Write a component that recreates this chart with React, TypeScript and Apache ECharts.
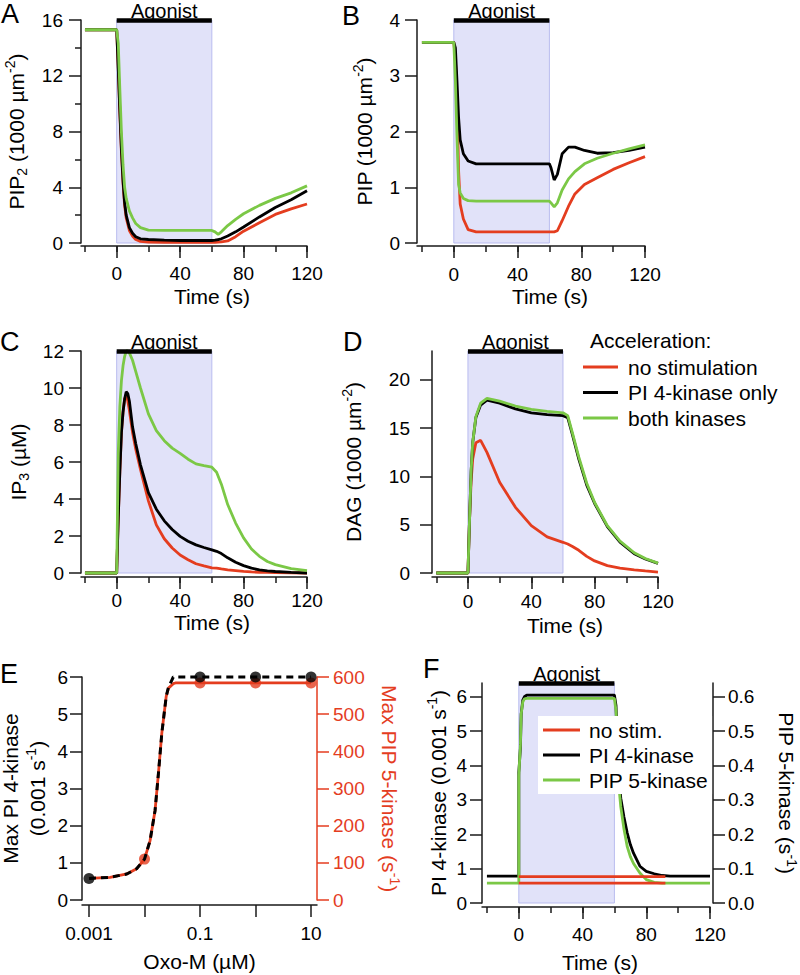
import React, { useEffect, useRef } from 'react';
import * as echarts from 'echarts';

const FONT = '"Liberation Sans", Arial, Helvetica, sans-serif';
const RED = '#e43d1f';
const GREEN = '#7bc846';
const BLACK = '#000000';
const AXIS = '#1a1a1a';
const SHADE = '#e1e2f9';
const SHADE_EDGE = '#b9bcef';

// ---- tick values ----
const timeAllTicks = [-20, 0, 20, 40, 60, 80, 100, 120];
const timeMajorTicks = [0, 40, 80, 120];
const dagTicks = [0, 5, 10, 15, 20];
const pi4RateTicks = [0, 1, 2, 3, 4, 5, 6];
const pip5RateTicks = [0, 0.1, 0.2, 0.3, 0.4, 0.5, 0.6];
const oxoTicks = [0.001, 0.01, 0.1, 1, 10];
const oxoLabels = [0.001, 0.1, 10];

const agonistStart = 0;
const agonistEnd = 60;

// ---- Panel A: PIP2 (1000 µm^-2) ----
const timeA = [-20, 0, 1, 2, 3, 4, 5, 6, 8, 10, 12, 15, 20, 30, 40, 50, 60, 62, 64, 66, 70, 75, 80, 90, 100, 110, 120];
const pip2None = [15.3, 15.3, 12.5, 9.3, 6.5, 4.3, 2.7, 1.8, 0.9, 0.5, 0.25, 0.12, 0.07, 0.05, 0.05, 0.05, 0.05, 0.05, 0.06, 0.08, 0.15, 0.45, 0.85, 1.45, 2.05, 2.45, 2.8];
const pip2PI4 = [15.3, 15.3, 12.5, 9.5, 6.7, 4.5, 2.9, 2.0, 1.1, 0.7, 0.45, 0.3, 0.25, 0.2, 0.18, 0.18, 0.18, 0.2, 0.25, 0.3, 0.5, 0.8, 1.15, 1.87, 2.55, 3.1, 3.75];
const pip2Both = [15.3, 15.3, 14.3, 11.0, 7.9, 5.6, 4.0, 3.2, 2.3, 1.8, 1.4, 1.1, 0.93, 0.9, 0.9, 0.9, 0.9, 0.8, 0.62, 0.8, 1.25, 1.7, 2.1, 2.7, 3.2, 3.6, 4.1];

// ---- Panel B: PIP (1000 µm^-2) ----
const timeB = [-20, 0, 1, 2, 3, 4, 6, 9, 14, 30, 60, 61, 63, 65, 68, 72, 76, 82, 90, 100, 110, 120];
const pipNone = [3.6, 3.6, 3.3, 2.6, 1.3, 0.7, 0.43, 0.24, 0.2, 0.2, 0.2, 0.2, 0.2, 0.22, 0.4, 0.66, 0.88, 1.05, 1.17, 1.32, 1.44, 1.55];
const pipPI4 = [3.6, 3.6, 3.5, 2.9, 2.25, 1.85, 1.6, 1.47, 1.42, 1.42, 1.42, 1.35, 1.13, 1.23, 1.6, 1.72, 1.72, 1.66, 1.61, 1.62, 1.66, 1.72];
const pipBoth = [3.6, 3.6, 2.9, 1.9, 1.05, 0.9, 0.8, 0.76, 0.75, 0.75, 0.75, 0.72, 0.65, 0.72, 0.95, 1.15, 1.28, 1.42, 1.52, 1.61, 1.69, 1.76];

// ---- Panel C: IP3 (µM) ----
const timeC = [-20, 0, 1, 2, 3, 4, 5, 6, 7, 8, 10, 12, 15, 20, 25, 30, 35, 40, 45, 50, 55, 60, 63, 66, 70, 75, 80, 85, 90, 95, 100, 110, 120];
const ip3None = [0, 0, 3.0, 5.5, 7.6, 8.7, 9.4, 9.6, 9.3, 8.8, 7.6, 6.7, 5.6, 3.9, 2.6, 1.85, 1.35, 0.97, 0.72, 0.5, 0.38, 0.28, 0.26, 0.22, 0.17, 0.13, 0.09, 0.06, 0.04, 0.03, 0.02, 0.01, 0];
const ip3PI4 = [0, 0, 3.0, 5.5, 7.6, 8.7, 9.4, 9.8, 9.7, 9.3, 7.9, 7.0, 5.85, 4.35, 3.45, 2.82, 2.35, 1.98, 1.72, 1.52, 1.38, 1.25, 1.17, 1.05, 0.82, 0.58, 0.4, 0.26, 0.17, 0.11, 0.08, 0.03, 0];
const ip3Both = [0, 0, 6.5, 9.0, 10.4, 11.2, 11.7, 12.0, 12.0, 11.9, 11.5, 10.9, 10.0, 8.6, 7.7, 7.15, 6.75, 6.47, 6.15, 5.9, 5.8, 5.72, 5.45, 4.8, 3.7, 2.7, 1.9, 1.3, 0.9, 0.62, 0.45, 0.24, 0.13];

// ---- Panel D: DAG (1000 µm^-2) ----
const timeD = [-20, 0, 1, 2, 3, 5, 8, 12, 20, 30, 40, 50, 60, 63, 66, 70, 75, 80, 88, 96, 105, 112, 120];
const dagNone = [0, 0, 5.5, 9.5, 11.8, 13.5, 13.75, 12.5, 9.4, 6.8, 4.9, 3.75, 3.18, 3.0, 2.75, 2.35, 1.72, 1.25, 0.76, 0.5, 0.33, 0.22, 0.1];
const dagPI4 = [0, 0, 5.5, 10.5, 13.5, 16.1, 17.4, 17.9, 17.6, 17.0, 16.6, 16.4, 16.3, 16.1, 14.3, 11.8, 9.1, 7.2, 4.8, 3.2, 2.0, 1.45, 1.0];
const dagBoth = [0, 0, 5.5, 10.5, 13.5, 16.2, 17.6, 18.1, 17.8, 17.3, 16.95, 16.75, 16.6, 16.3, 14.5, 12.0, 9.3, 7.3, 4.9, 3.3, 2.1, 1.5, 1.03];

// ---- Panel E: dose response ----
const oxoConc = [0.001, 0.0024, 0.0048, 0.0072, 0.01, 0.0126, 0.0155, 0.0178, 0.0205, 0.0246, 0.027, 0.033, 0.036, 0.1, 1, 10];
const pi4Max = [0.58, 0.61, 0.7, 0.84, 1.1, 1.6, 2.41, 3.4, 4.49, 5.48, 5.72, 6.0, 6.0, 6.0, 6.0, 6.0];
const pip5Max = [58, 61, 70, 84, 110, 160, 241, 340, 449, 548, 570, 582, 584, 584, 584, 584];
const pi4DotConc = [0.001, 0.1, 1, 10];
const pi4Dots = [0.58, 6.0, 6.0, 6.0];
const pip5DotConc = [0.01, 0.1, 1, 10];
const pip5Dots = [110, 584, 584, 584];

// ---- Panel F: kinase rates over time ----
const timeF = [-20, 0, 0, 1, 1.5, 2.5, 3.5, 5, 60, 61, 62, 63, 64, 66, 68, 70, 72, 76, 80, 85, 90, 95, 120];
const pi4Rate = [0.78, 0.78, 3.8, 4.5, 5.5, 5.9, 6.0, 6.05, 6.05, 5.75, 4.6, 3.5, 3.05, 2.5, 2.05, 1.7, 1.45, 1.07, 0.92, 0.85, 0.8, 0.78, 0.78];
const pip5Rate = [0.058, 0.058, 0.37, 0.46, 0.55, 0.585, 0.594, 0.595, 0.595, 0.56, 0.44, 0.33, 0.28, 0.215, 0.165, 0.135, 0.115, 0.087, 0.068, 0.06, 0.058, 0.058, 0.058];
const noStimTime = [0, 92];
const noStimPI4 = [0.77, 0.77];
const noStimPIP5 = [0.058, 0.058];

const zip = (xs: number[], ys: number[]) => xs.map((x, i) => [x, ys[i]]);

// panel grids: A, B, C, D, E, F
const G = [
  { left: 81, top: 20, width: 226, height: 223 },
  { left: 417, top: 20, width: 228, height: 223 },
  { left: 81, top: 351, width: 226, height: 222 },
  { left: 432, top: 351, width: 226, height: 222 },
  { left: 82, top: 677, width: 235, height: 223 },
  { left: 482, top: 683, width: 228, height: 220 },
];
// overlay grids (same geometry) carrying the long major time ticks of A, B, C, D, F
const overlayOf = [0, 1, 2, 3, 5];
const timeMin = [-22.5, -23.1, -22.5, -22.7, 0, -23.1];
const xOff = [3, 3, 4, 4, 5, 4];

const tickStyle = { color: AXIS, width: 1.5 };

function richFor(color: string, lh = 26) {
  return {
    t: { fontFamily: FONT, fontSize: 21, color, lineHeight: lh },
    sub: { fontFamily: FONT, fontSize: 14, color, lineHeight: 14, verticalAlign: 'bottom' },
    sup: { fontFamily: FONT, fontSize: 14, color, lineHeight: 14, verticalAlign: 'top' },
  };
}

function timeAxis(gi: number, labelMargin: number, nameGap: number, nameShift: number) {
  return {
    type: 'value', gridIndex: gi, position: 'bottom', min: timeMin[gi], max: 120, offset: xOff[gi],
    name: 'Time (s)', nameLocation: 'middle', nameGap,
    nameTextStyle: { fontFamily: FONT, fontSize: 21, color: '#000', padding: [0, 0, 0, nameShift * 2] },
    axisLine: { show: true, onZero: false, lineStyle: tickStyle },
    axisTick: { show: true, length: 6, customValues: timeAllTicks, lineStyle: tickStyle },
    axisLabel: { show: true, margin: labelMargin, customValues: timeMajorTicks, fontFamily: FONT, fontSize: 19, color: '#000' },
    splitLine: { show: false },
  };
}

function majorTimeAxis(k: number) {
  const src = overlayOf[k];
  return {
    type: 'value', gridIndex: 6 + k, position: 'bottom', min: timeMin[src], max: 120, offset: xOff[src],
    axisLine: { show: false, onZero: false },
    axisTick: { show: true, length: 12, customValues: timeMajorTicks, lineStyle: tickStyle },
    axisLabel: { show: false },
    splitLine: { show: false },
  };
}

function yAxisDef(o: any) {
  const color = o.color || '#000';
  const lc = o.color || AXIS;
  return {
    type: 'value', gridIndex: o.grid, position: o.pos || 'left', min: o.min, max: o.max,
    interval: o.interval, offset: o.offset || 0,
    name: o.name, nameLocation: 'middle', nameGap: o.nameGap, nameRotate: o.nameRotate,
    nameTextStyle: { color, rich: richFor(color, o.lh || 26) },
    axisLine: { show: true, onZero: false, lineStyle: { color: lc, width: 1.5 } },
    axisTick: { show: true, length: 12, customValues: o.ticks, lineStyle: { color: lc, width: 1.5 } },
    minorTick: o.minor ? { show: true, splitNumber: 2, length: 6, lineStyle: { color: lc, width: 1.5 } } : { show: false },
    axisLabel: { margin: o.margin, customValues: o.ticks, formatter: o.fmt, fontFamily: FONT, fontSize: 19, color },
    splitLine: { show: false },
    minorSplitLine: { show: false },
  };
}

function line(name: string, xi: number, yi: number, xs: number[], ys: number[], color: string, extra: any = {}) {
  return {
    type: 'line', name, xAxisIndex: xi, yAxisIndex: yi, data: zip(xs, ys),
    symbol: 'none', showSymbol: false, clip: false, silent: true, z: 3,
    color, itemStyle: { color }, lineStyle: { color, width: 2.8 },
    ...extra,
  };
}

function agonistMarks(top: number) {
  return {
    markArea: {
      silent: true, label: { show: false },
      itemStyle: { color: SHADE, borderColor: SHADE_EDGE, borderWidth: 1 },
      data: [[{ coord: [agonistStart, 0] }, { coord: [agonistEnd, top] }]],
    },
    markLine: {
      silent: true, symbol: ['none', 'none'],
      lineStyle: { color: '#000', width: 4.5, type: 'solid' },
      label: {
        show: true, position: 'insideMiddleTop', formatter: 'Agonist', distance: 1,
        fontFamily: FONT, fontSize: 20, lineHeight: 15.4, color: '#000',
      },
      emphasis: { disabled: true },
      data: [[{ coord: [agonistStart, top] }, { coord: [agonistEnd, top] }]],
    },
  };
}

const N1 = 'no stimulation';
const N2 = 'PI 4-kinase only';
const N3 = 'both kinases';

const xAxes = [
  timeAxis(0, 18, 40, 18),
  timeAxis(1, 19, 40, 19),
  timeAxis(2, 14, 35, 18),
  timeAxis(3, 15, 38, 20),
  {
    type: 'log', logBase: 10, gridIndex: 4, position: 'bottom', min: 0.000748, max: 12.8, offset: xOff[4],
    name: 'Oxo-M (µM)', nameLocation: 'middle', nameGap: 46,
    nameTextStyle: { fontFamily: FONT, fontSize: 21, color: '#000' },
    axisLine: { show: true, onZero: false, lineStyle: tickStyle },
    axisTick: { show: true, length: 12, customValues: oxoTicks, lineStyle: tickStyle },
    axisLabel: {
      margin: 19, customValues: oxoLabels, fontFamily: FONT, fontSize: 19, color: '#000',
      formatter: (v: number) => String(+Number(v).toPrecision(3)),
    },
    splitLine: { show: false }, minorTick: { show: false },
  },
  timeAxis(5, 18, 45, 4),
  ...overlayOf.map((_, k) => majorTimeAxis(k)),
];

const yAxes = [
  yAxisDef({ grid: 0, min: 0, max: 16, interval: 4, minor: true, margin: 18, nameGap: 52,
    name: '{t|PIP}{sub|2}{t| (1000 µm}{sup|-2}{t|)}' }),
  yAxisDef({ grid: 1, min: 0, max: 4, interval: 1, margin: 17, nameGap: 40,
    name: '{t|PIP (1000 µm}{sup|-2}{t|)}' }),
  yAxisDef({ grid: 2, min: 0, max: 12, interval: 2, margin: 17, nameGap: 50,
    name: '{t|IP}{sub|3}{t| (µM)}' }),
  yAxisDef({ grid: 3, min: 0, max: 23, ticks: dagTicks, margin: 22, nameGap: 66,
    name: '{t|DAG (1000 µm}{sup|-2}{t|)}' }),
  yAxisDef({ grid: 4, min: 0, max: 6, interval: 1, margin: 14, nameGap: 31, lh: 27,
    name: '{t|Max PI 4-kinase}\n{t|(0.001 s}{sup|-1}{t|)}' }),
  yAxisDef({ grid: 4, pos: 'right', min: 0, max: 600, interval: 100, margin: 16, nameGap: 59, nameRotate: -90,
    color: RED, name: '{t|Max PIP 5-kinase (s}{sup|-1}{t|)}' }),
  yAxisDef({ grid: 5, min: 0, max: 6.4, ticks: pi4RateTicks, margin: 15, nameGap: 31,
    name: '{t|PI 4-kinase (0.001 s}{sup|-1}{t|)}' }),
  yAxisDef({ grid: 5, pos: 'right', offset: 3, min: 0, max: 0.64, ticks: pip5RateTicks, margin: 15, nameGap: 60, nameRotate: -90,
    fmt: (v: number) => Number(v).toFixed(1), name: '{t|PIP 5-kinase (s}{sup|-1}{t|)}' }),
  ...overlayOf.map((_, k) => ({ type: 'value', gridIndex: 6 + k, show: false, min: 0, max: 1 })),
];

const series: any[] = [
  // A
  line(N1, 0, 0, timeA, pip2None, RED, agonistMarks(16)),
  line(N2, 0, 0, timeA, pip2PI4, BLACK),
  line(N3, 0, 0, timeA, pip2Both, GREEN),
  // B
  line(N1, 1, 1, timeB, pipNone, RED, agonistMarks(4)),
  line(N2, 1, 1, timeB, pipPI4, BLACK),
  line(N3, 1, 1, timeB, pipBoth, GREEN),
  // C
  line(N1, 2, 2, timeC, ip3None, RED, agonistMarks(12)),
  line(N2, 2, 2, timeC, ip3PI4, BLACK),
  line(N3, 2, 2, timeC, ip3Both, GREEN),
  // D
  line(N1, 3, 3, timeD, dagNone, RED, agonistMarks(23)),
  line(N2, 3, 3, timeD, dagPI4, BLACK),
  line(N3, 3, 3, timeD, dagBoth, GREEN),
  // E
  line('Max PIP 5-kinase', 4, 5, oxoConc, pip5Max, RED),
  {
    type: 'scatter', name: 'PIP 5-kinase points', xAxisIndex: 4, yAxisIndex: 5, data: zip(pip5DotConc, pip5Dots),
    symbol: 'circle', symbolSize: 11, itemStyle: { color: RED }, silent: true, z: 4, clip: false,
  },
  line('Max PI 4-kinase', 4, 4, oxoConc, pi4Max, BLACK, { z: 5, lineStyle: { color: BLACK, width: 3, type: [7, 5] } }),
  {
    type: 'scatter', name: 'PI 4-kinase points', xAxisIndex: 4, yAxisIndex: 4, data: zip(pi4DotConc, pi4Dots),
    symbol: 'circle', symbolSize: 11, itemStyle: { color: BLACK }, silent: true, z: 6, clip: false,
  },
  // F
  line('PI 4-kinase', 5, 6, timeF, pi4Rate, BLACK, agonistMarks(6.4)),
  line('PIP 5-kinase', 5, 7, timeF, pip5Rate, GREEN),
  line('no stim.', 5, 6, noStimTime, noStimPI4, RED, { z: 4 }),
  line('no stim.', 5, 7, noStimTime, noStimPIP5, RED, { z: 4 }),
];

const letterStyle = (t: string) => ({ text: t, fontFamily: FONT, fontSize: 27, fill: '#000' });

const option: any = {
  animation: false,
  backgroundColor: '#ffffff',
  grid: [...G, ...overlayOf.map((i) => G[i])].map((g) => ({ ...g, containLabel: false, outerBoundsMode: 'none' })),
  xAxis: xAxes,
  yAxis: yAxes,
  legend: [
    {
      data: [N1, N2, N3], orient: 'vertical', left: 583, top: 356, padding: 0,
      itemWidth: 35, itemHeight: 3, icon: 'rect', itemGap: 3.5, selectedMode: false,
      textStyle: { fontFamily: FONT, fontSize: 21, color: '#000', lineHeight: 22, padding: [0, 0, 0, 5] },
    },
    {
      data: ['no stim.', 'PI 4-kinase', 'PIP 5-kinase'], orient: 'vertical', left: 538, top: 716,
      backgroundColor: '#ffffff', padding: [3, 4, 3, 5],
      itemWidth: 37, itemHeight: 3, icon: 'rect', itemGap: 3, selectedMode: false,
      textStyle: { fontFamily: FONT, fontSize: 21, color: '#000', lineHeight: 22, padding: [0, 0, 0, 4] },
    },
  ],
  graphic: [
    { type: 'text', left: 1, top: 0, style: letterStyle('A') },
    { type: 'text', left: 342, top: 2, style: letterStyle('B') },
    { type: 'text', left: 0, top: 328, style: letterStyle('C') },
    { type: 'text', left: 343, top: 328, style: letterStyle('D') },
    { type: 'text', left: 0, top: 660, style: letterStyle('E') },
    { type: 'text', left: 423, top: 655, style: letterStyle('F') },
    { type: 'text', left: 590, top: 330, style: { text: 'Acceleration:', fontFamily: FONT, fontSize: 21, fill: '#000' } },
  ],
  series,
};

export default function App() {
  const ref = useRef<HTMLDivElement>(null);
  useEffect(() => {
    document.body.style.margin = '0';
    const chart = echarts.init(ref.current as HTMLDivElement, null, { renderer: 'svg' });
    chart.setOption(option);
    return () => chart.dispose();
  }, []);
  return <div ref={ref} style={{ width: 800, height: 975 }} />;
}
